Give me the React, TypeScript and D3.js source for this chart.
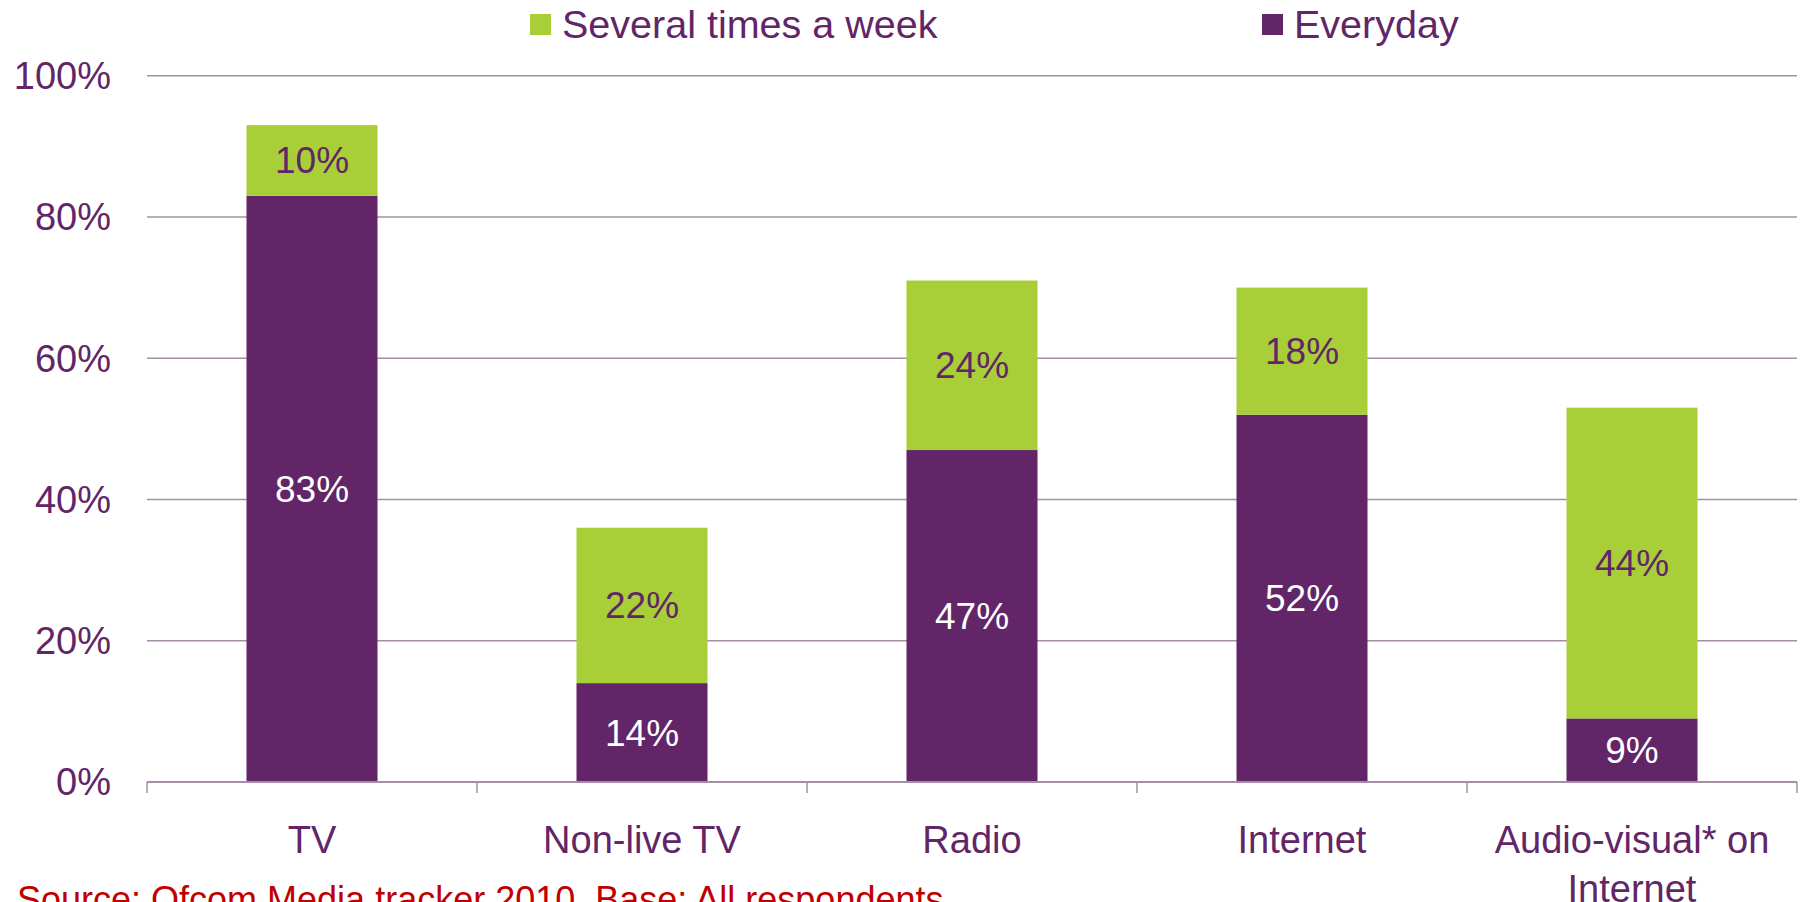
import React from "react";
import * as d3 from "d3";

const categories = ["TV", "Non-live TV", "Radio", "Internet", "Audio-visual* on Internet"];
const categoryLines = [["TV"], ["Non-live TV"], ["Radio"], ["Internet"], ["Audio-visual* on", "Internet"]];
const everyday = [83, 14, 47, 52, 9];
const severalTimes = [10, 22, 24, 18, 44];
const yTicks = [0, 20, 40, 60, 80, 100];
const seriesNames = ["Several times a week", "Everyday"];

const W = 1804;
const H = 902;
const left = 147;
const right = 1797;
const top = 75.7;
const bottom = 782;

const PURPLE = "#622567";
const GREEN = "#a9cf38";
const GRID = "#a48fa6";
const TEXT = "#622567";
const FONT = "'Liberation Sans', Arial, sans-serif";

export default function App() {
  const x = d3.scaleBand<string>().domain(categories).range([left, right]).padding(0);
  const y = d3.scaleLinear().domain([0, 100]).range([bottom, top]);
  const bw = x.bandwidth() * 0.397;

  return (
    <svg width={W} height={H} style={{ position: "absolute", left: 0, top: 0, background: "#fff" }} fontFamily={FONT}>
      {/* gridlines */}
      {yTicks.filter((t) => t > 0).map((t) => (
        <line key={t} x1={left} x2={right} y1={y(t)} y2={y(t)} stroke={GRID} strokeWidth={1.5} />
      ))}
      {/* bars */}
      {categories.map((c, i) => {
        const cx = (x(c) as number) + x.bandwidth() / 2;
        const e = everyday[i];
        const s = severalTimes[i];
        return (
          <g key={c}>
            <rect x={cx - bw / 2} y={y(e)} width={bw} height={y(0) - y(e)} fill={PURPLE} />
            <rect x={cx - bw / 2} y={y(e + s)} width={bw} height={y(e) - y(e + s)} fill={GREEN} />
            <text x={cx} y={(y(0) + y(e)) / 2} dy="0.35em" textAnchor="middle" fontSize={37} fill="#ffffff">{e}%</text>
            <text x={cx} y={(y(e) + y(e + s)) / 2} dy="0.35em" textAnchor="middle" fontSize={37} fill={TEXT}>{s}%</text>
          </g>
        );
      })}
      {/* axis line */}
      <line x1={left} x2={right} y1={y(0)} y2={y(0)} stroke={GRID} strokeWidth={2} />
      {categories.map((c, i) => (
        <line key={"t" + i} x1={x(c) as number} x2={x(c) as number} y1={y(0)} y2={y(0) + 11} stroke={GRID} strokeWidth={1.5} />
      ))}
      <line x1={right} x2={right} y1={y(0)} y2={y(0) + 11} stroke={GRID} strokeWidth={1.5} />
      {/* y labels */}
      {yTicks.map((t) => (
        <text key={"y" + t} x={111} y={y(t)} dy="0.35em" textAnchor="end" fontSize={38} fill={TEXT}>{t}%</text>
      ))}
      {/* x labels */}
      {categories.map((c, i) => {
        const cx = (x(c) as number) + x.bandwidth() / 2;
        return (
          <text key={"x" + i} x={cx} y={853} textAnchor="middle" fontSize={38} fill={TEXT}>
            {categoryLines[i].map((ln, j) => (
              <tspan key={j} x={cx} dy={j === 0 ? 0 : 49}>{ln}</tspan>
            ))}
          </text>
        );
      })}
      {/* legend */}
      <rect x={530} y={14} width={21} height={21} fill={GREEN} />
      <text x={562} y={37.5} fontSize={39.5} fill={TEXT}>{seriesNames[0]}</text>
      <rect x={1262} y={14} width={21} height={21} fill={PURPLE} />
      <text x={1294} y={37.5} fontSize={39.5} fill={TEXT}>{seriesNames[1]}</text>
      {/* source */}
      <text x={17} y={912} fontSize={36} fill="#c00000">Source: Ofcom Media tracker 2010. Base: All respondents</text>
    </svg>
  );
}
